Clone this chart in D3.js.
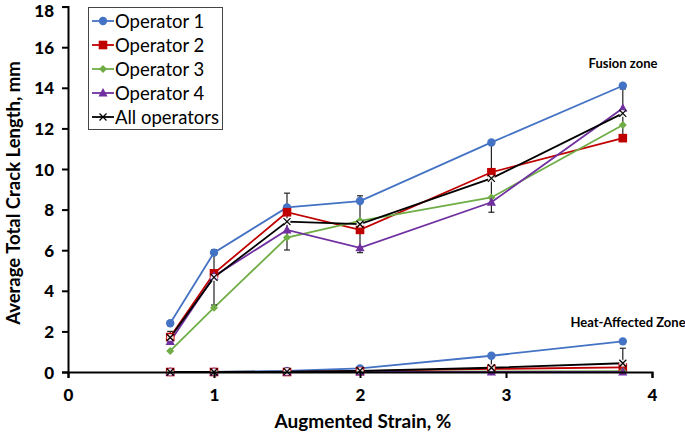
<!DOCTYPE html>
<html><head><meta charset="utf-8">
<script src="https://cdn.jsdelivr.net/npm/d3@7"></script>
<style>body{margin:0;background:#fff}svg{display:block}</style>
</head><body>
<svg id="c" width="685" height="432"></svg>
<script>
const strain = [0.7, 1.0, 1.5, 2.0, 2.9, 3.8];
const seriesNames = ["Operator 1", "Operator 2", "Operator 3", "Operator 4", "All operators"];
const colors = ["#4472C4", "#C00000", "#70AD47", "#7030A0", "#000000"];
const symbols = ["circle", "square", "diamond", "triangle", "cross"];
// Fusion zone
const fzOp1 = [2.4, 5.88, 8.11, 8.42, 11.31, 14.1];
const fzOp2 = [1.72, 4.86, 7.87, 7.0, 9.84, 11.52];
const fzOp3 = [1.04, 3.17, 6.62, 7.45, 8.6, 12.17];
const fzOp4 = [1.5, 4.72, 7.0, 6.12, 8.36, 12.99];
const fzAll = [1.7, 4.66, 7.41, 7.28, 9.54, 12.74];
const fzErr = [0.3, 1.36, 1.4, 1.4, 1.67, 1.2];
// Heat-affected zone
const hazOp1 = [0, 0, 0.05, 0.18, 0.8, 1.51];
const hazOp2 = [0, 0, 0, 0.04, 0.15, 0.23];
const hazOp3 = [0, 0, 0, 0, 0.03, 0.04];
const hazOp4 = [0, 0, 0, 0, 0, 0];
const hazAll = [0, 0, 0.02, 0.06, 0.21, 0.43];
const hazErr = [0, 0, 0.03, 0.1, 0.6, 0.74];
const xTicks = [0, 1, 2, 3, 4];
const yTicks = [0, 2, 4, 6, 8, 10, 12, 14, 16, 18];

const svg = d3.select("#c");
const x = d3.scaleLinear().domain([0, 4]).range([68, 652]);
const y = d3.scaleLinear().domain([0, 18]).range([372, 6.6]);
const font = "Lato, 'Open Sans', sans-serif";

const groups = [
  {vals: [fzOp1, fzOp2, fzOp3, fzOp4, fzAll], err: fzErr},
  {vals: [hazOp1, hazOp2, hazOp3, hazOp4, hazAll], err: hazErr}
];

const line = d3.line().x(d => x(d[0])).y(d => y(d[1]));

function marker(g, sym, cx, cy, col) {
  if (sym === "circle") g.append("circle").attr("cx", cx).attr("cy", cy).attr("r", 4.2).attr("fill", col);
  else if (sym === "square") g.append("rect").attr("x", cx - 4.3).attr("y", cy - 4.3).attr("width", 8.6).attr("height", 8.6).attr("fill", col);
  else if (sym === "diamond") g.append("path").attr("d", `M${cx},${cy-4}L${cx+4},${cy}L${cx},${cy+4}L${cx-4},${cy}Z`).attr("fill", col);
  else if (sym === "triangle") g.append("path").attr("d", `M${cx},${cy-5}L${cx+4.6},${cy+3.5}L${cx-4.6},${cy+3.5}Z`).attr("fill", col);
  else if (sym === "cross") g.append("path").attr("d", `M${cx-3.5},${cy-3.5}L${cx+3.5},${cy+3.5}M${cx-3.5},${cy+3.5}L${cx+3.5},${cy-3.5}`).attr("stroke", col).attr("stroke-width", 1.2).attr("fill", "none");
}

groups.forEach(gr => {
  gr.vals.forEach((vals, i) => {
    const pts = strain.map((s, k) => [s, vals[k]]);
    svg.append("path").attr("d", line(pts)).attr("fill", "none").attr("stroke", colors[i]).attr("stroke-width", 1.8);
  });
});
// error bars (clipped at the x axis)
groups.forEach(gr => {
  const all = gr.vals[4];
  strain.forEach((s, k) => {
    const e = gr.err[k]; if (!e) return;
    const lo = all[k] - e;
    const cx = x(s), y1 = y(all[k] + e), y2 = y(Math.max(0, lo));
    const g = svg.append("g").attr("stroke", "#222").attr("stroke-width", 1.2);
    g.append("line").attr("x1", cx).attr("x2", cx).attr("y1", y1).attr("y2", y2);
    g.append("line").attr("x1", cx - 3).attr("x2", cx + 3).attr("y1", y1).attr("y2", y1);
    if (lo >= 0) g.append("line").attr("x1", cx - 3).attr("x2", cx + 3).attr("y1", y2).attr("y2", y2);
  });
});
groups.forEach(gr => {
  gr.vals.forEach((vals, i) => {
    const g = svg.append("g");
    strain.forEach((s, k) => {
      if (i === 4) g.append("circle").attr("cx", x(s)).attr("cy", y(vals[k])).attr("r", 3.5).attr("fill", "#fff").attr("fill-opacity", 0.85);
      marker(g, symbols[i], x(s), y(vals[k]), colors[i]);
    });
  });
});

// axes
const xa = svg.append("g").attr("transform", "translate(0,372)")
  .call(d3.axisBottom(x).tickValues(xTicks).tickSize(6).tickFormat(d3.format("d")));
const ya = svg.append("g").attr("transform", "translate(68,0)")
  .call(d3.axisLeft(y).tickValues(yTicks).tickSize(6).tickFormat(d3.format("d")));
[xa, ya].forEach(a => {
  a.select(".domain").attr("stroke", "#000").attr("stroke-width", 2);
  a.selectAll(".tick line").attr("stroke", "#000").attr("stroke-width", 2);
  a.selectAll(".tick text").attr("font-family", font).attr("font-weight", "900").attr("font-size", 17).attr("fill", "#000");
});
xa.selectAll(".tick text").attr("y", 17).attr("dy", "0.71em");
ya.selectAll(".tick text").attr("x", -14).attr("dy", "0.36em");
ya.selectAll(".tick").filter(d => d === 18).select("text").attr("dy", "0.6em");

svg.append("text").attr("x", 363).attr("y", 428).attr("text-anchor", "middle")
  .attr("font-family", font).attr("font-weight", "bold").attr("font-size", 19).text("Augmented Strain, %");
svg.append("text").attr("transform", "translate(20,193) rotate(-90)").attr("text-anchor", "middle")
  .attr("font-family", font).attr("font-weight", "bold").attr("font-size", 18.5).text("Average Total Crack Length, mm");

svg.append("text").attr("x", 623).attr("y", 68).attr("text-anchor", "middle")
  .attr("font-family", font).attr("font-weight", "bold").attr("font-size", 13).text("Fusion zone");
svg.append("text").attr("x", 628).attr("y", 327).attr("text-anchor", "middle")
  .attr("font-family", font).attr("font-weight", "bold").attr("font-size", 13).text("Heat-Affected Zone");

// legend
const lg = svg.append("g");
lg.append("rect").attr("x", 88.5).attr("y", 7.5).attr("width", 134).attr("height", 122).attr("fill", "#fff").attr("stroke", "#444").attr("stroke-width", 1);
seriesNames.forEach((n, i) => {
  const ly = 21 + i * 24;
  lg.append("line").attr("x1", 92).attr("x2", 114).attr("y1", ly).attr("y2", ly).attr("stroke", colors[i]).attr("stroke-width", 1.8);
  marker(lg, symbols[i], 103, ly, colors[i]);
  lg.append("text").attr("x", 115).attr("y", ly + 6.5).attr("font-family", font).attr("font-size", 18.5).text(n);
});
</script>
</body></html>
